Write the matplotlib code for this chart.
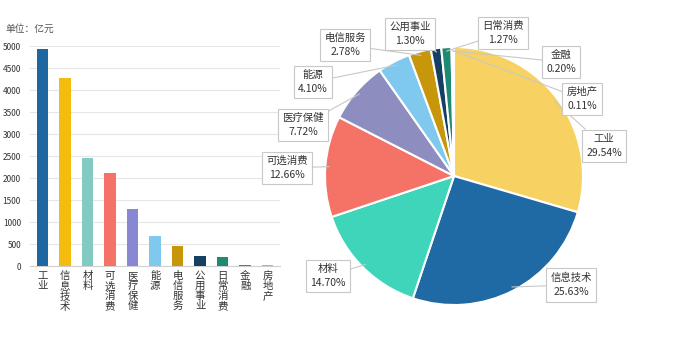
import matplotlib
matplotlib.use("Agg")
import matplotlib.pyplot as plt
import numpy as np

plt.rcParams['font.family'] = ['Noto Sans CJK SC', 'DejaVu Sans']

categories = ["工业", "信息技术", "材料", "可选消费", "医疗保健", "能源",
              "电信服务", "公用事业", "日常消费", "金融", "房地产"]
bar_values = [4930, 4278, 2453, 2113, 1288, 684, 464, 217, 212, 33, 18]
pie_pcts = [29.54, 25.63, 14.70, 12.66, 7.72, 4.10, 2.78, 1.30, 1.27, 0.20, 0.11]
y_ticks = [0, 500, 1000, 1500, 2000, 2500, 3000, 3500, 4000, 4500, 5000]

bar_colors = ["#1F67A0", "#F3BC0F", "#82CAC2", "#F47366", "#8888D2", "#7FC9EE",
              "#C8960A", "#153F63", "#1E8A72", "#D9463E", "#B3AAD2"]
pie_colors = ["#F7D262", "#1F6AA4", "#3FD5BB", "#F47366", "#8E8DBF", "#7FC9EE",
              "#C8960A", "#153F63", "#1E8A72", "#E0524B", "#B3AAD2"]

W, H = 699, 337
fig = plt.figure(figsize=(W / 100, H / 100), dpi=100)

def fx(px):
    return px / W

def fy(py):
    return 1 - py / H

# ---------------- bar chart ----------------
ax = fig.add_axes([fx(30), fy(266), fx(280) - fx(30), fy(46) - fy(266)])
x = np.arange(len(categories))
ax.bar(x, bar_values, width=0.5, color=bar_colors, zorder=3)
ax.set_xlim(-0.56, 10.55)
ax.set_ylim(0, 5000)
ax.set_yticks(y_ticks)
ax.set_yticklabels([str(v) for v in y_ticks], fontsize=6, color="#333333")
ax.tick_params(axis="y", length=0, pad=6.5)
ax.yaxis.grid(True, color="#E6E6E6", linewidth=0.8, zorder=0)
ax.set_xticks([])
for s in ["left", "right", "top"]:
    ax.spines[s].set_visible(False)
ax.spines["bottom"].set_color("#D0D0D0")
for i, c in enumerate(categories):
    ax.text(i, -120, "\n".join(c), ha="center", va="top", fontsize=7.5,
            color="#333333", linespacing=1.0)
fig.text(fx(5), fy(29), "单位：亿元", fontsize=7, color="#555555", va="center")

# ---------------- pie chart ----------------
cx, cy, r = 454, 176, 129
pax = fig.add_axes([fx(cx - r), fy(cy + r), fx(2 * r), fy(cy - r) - fy(cy + r)])
wedges, _ = pax.pie(pie_pcts, colors=pie_colors, startangle=90, counterclock=False,
                    radius=1, wedgeprops=dict(edgecolor="white", linewidth=1.5))
pax.set_xlim(-1, 1)
pax.set_ylim(-1, 1)
pax.set_aspect("equal")
pax.axis("off")

label_pos_px = [(604, 146), (571, 285), (328, 276), (287, 168), (303, 125),
                (313, 82), (345, 45), (410, 34), (503, 33), (561, 62), (582, 99)]

for w, name, pct, (lx, ly) in zip(wedges, categories, pie_pcts, label_pos_px):
    ang = np.deg2rad((w.theta1 + w.theta2) / 2)
    px, py = 0.97 * np.cos(ang), 0.97 * np.sin(ang)
    tx = (lx - cx) / r
    ty = -(ly - cy) / r
    pax.annotate(f"{name}\n{pct:.2f}%", xy=(px, py), xytext=(tx, ty),
                 textcoords="data", ha="center", va="center", fontsize=7.5,
                 color="#333333", linespacing=1.55, annotation_clip=False,
                 bbox=dict(boxstyle="square,pad=0.4", fc="white", ec="#C8C8C8", lw=0.8),
                 arrowprops=dict(arrowstyle="-", color="#C8C8C8", lw=0.8,
                                 shrinkA=0, shrinkB=0))

fig.savefig("out.png", dpi=100, facecolor="white")
